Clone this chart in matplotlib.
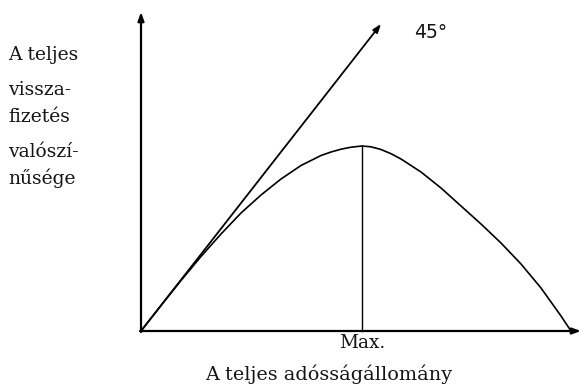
import matplotlib
matplotlib.use("Agg")
import matplotlib.pyplot as plt

# Curve (x: total debt, y: repayment probability), pixel-scale units
curve_x = [0, 20, 40, 60, 80, 100, 120, 140, 160, 180, 190, 200, 210, 221,
           230, 240, 250, 260, 280, 300, 320, 340, 360, 380, 400, 420, 430]
curve_y = [0, 25.5, 50.5, 74.5, 97, 118, 136, 152, 165.5, 175.5, 179, 181.8, 183.8, 185,
           184.2, 181.5, 177.3, 172, 159, 143, 125, 107, 88, 67, 43, 15, 0]
line_end = (240, 307)      # 45° line tip
max_x = 221
max_y = 185
y_axis_top = 319
x_axis_end = 440

y_label_lines = ["A teljes", "vissza-", "fizetés", "valószí-", "nűsége"]
y_label_pos = [276, 241, 214, 179, 153]
x_label = "A teljes adósságállomány"
max_label = "Max."
angle_label = "45°"

fig = plt.figure(figsize=(5.81, 3.84), dpi=100)
ax = fig.add_axes([0, 0, 1, 1])
ax.set_xlim(-141, 440)
ax.set_ylim(-53, 331)
ax.axis("off")

arrow_kw = dict(arrowstyle="-|>,head_length=0.5,head_width=0.18", color="black", lw=1.6,
                shrinkA=0, shrinkB=0)
ax.annotate("", xy=(0, y_axis_top), xytext=(0, -1), arrowprops=arrow_kw)
ax.annotate("", xy=(x_axis_end, 0), xytext=(-1, 0), arrowprops=arrow_kw)
ax.annotate("", xy=line_end, xytext=(0, 0),
            arrowprops=dict(arrowstyle="-|>,head_length=0.5,head_width=0.18", color="black",
                            lw=1.3, shrinkA=0, shrinkB=0))

ax.plot(curve_x, curve_y, color="black", lw=1.2, solid_joinstyle="round")
ax.plot([max_x, max_x], [0, max_y], color="black", lw=1.0)

serif = "DejaVu Serif"
tc = "#151515"
for txt, yy in zip(y_label_lines, y_label_pos):
    ax.text(-133, yy, txt, fontsize=13.5, family=serif, ha="left", va="center", color=tc)
ax.text(max_x, -12, max_label, fontsize=13.3, family=serif, ha="center", va="center", color=tc)
ax.text(188, -43, x_label, fontsize=13.9, family=serif, ha="center", va="center", color=tc)
ax.text(290, 298, angle_label, fontsize=13.5, family="DejaVu Sans", ha="center", va="center", color=tc)

fig.savefig("out.png", dpi=100)
